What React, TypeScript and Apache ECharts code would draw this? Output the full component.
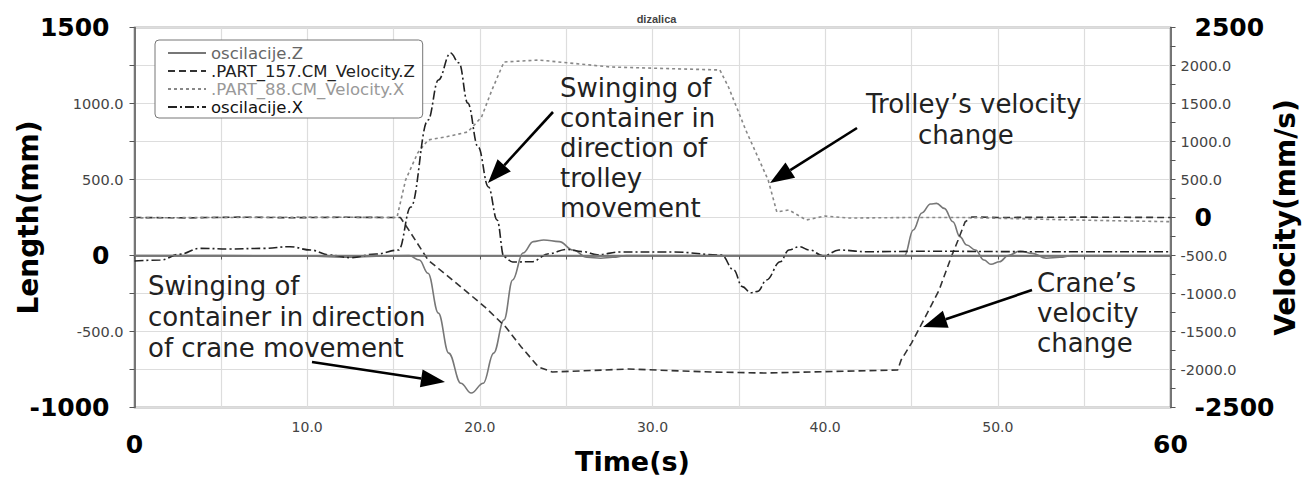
import React, { useEffect, useRef } from "react";
import * as echarts from "echarts";

// ---- data (time in s) ----
const zTime = [0, 5, 10, 12.5, 14, 15.9, 16.5, 17.0, 17.6, 18.2, 18.9, 19.5, 20.2, 20.8, 21.4, 21.9, 22.5, 23.1, 23.7, 24.6, 25.4, 26.2, 27.0, 27.7, 28.5, 35, 44.6, 45.1, 45.6, 46.1, 46.45, 46.9, 47.4, 47.8, 48.2, 48.7, 49.2, 49.6, 50.1, 50.6, 51.3, 52.0, 52.8, 53.6, 54.3, 60];
const zLength = [0, 0, -3, -12, -5, 0, -30, -117, -379, -642, -840, -905, -840, -642, -424, -161, 16, 91, 102, 91, 36, -12, -18, -12, 0, 0, 0, 168, 280, 339, 343, 310, 222, 124, 69, 36, -30, -58, -41, 0, 30, 14, -18, -12, 0, 0];

const xTime = [0, 1.5, 2.6, 3.8, 5.5, 7.5, 9.0, 10.2, 11.3, 12.5, 14.0, 15.3, 16.0, 17.0, 17.6, 18.3, 18.8, 19.3, 19.9, 20.5, 21.0, 21.4, 21.9, 23.0, 24.0, 25.0, 26.0, 26.8, 28.1, 31.2, 34.0, 34.7, 35.2, 35.7, 36.1, 36.6, 37.4, 37.9, 38.5, 39.1, 39.9, 40.8, 42.4, 46.2, 52, 60];
const xLength = [-36, -30, 8, 47, 43, 47, 58, 36, 3, -14, 10, 36, 319, 891, 1155, 1332, 1266, 1003, 714, 451, 234, -10, -43, -41, 12, 40, 25, 5, 23, 23, 3, -95, -205, -245, -236, -161, -41, 36, 58, 36, -3, 36, 25, 28, 25, 25];

const vzTime = [0, 3, 6, 9, 12, 15.4, 16.0, 17.0, 18.9, 20.3, 21.5, 22.4, 23.4, 24.2, 28.6, 33.4, 36.5, 44.2, 44.4, 45.0, 45.8, 46.6, 47.3, 47.7, 48.1, 48.5, 50, 55, 60];
const vzVelocity = [0, -5, 5, -3, 3, 0, -204, -559, -914, -1178, -1441, -1704, -1967, -2033, -1994, -2033, -2046, -2007, -1875, -1652, -1309, -954, -520, -296, -59, 7, 0, 5, 0];

const vxTime = [0, 5, 10, 15.2, 15.7, 16.4, 17.0, 18.0, 19.3, 20.1, 20.7, 21.4, 23.4, 27.6, 33.9, 34.4, 35.4, 36.7, 37.2, 37.9, 38.9, 40.0, 41.3, 45, 48, 52, 56, 60];
const vxVelocity = [-5, 0, 5, 0, 493, 849, 1020, 1059, 1125, 1322, 1678, 2046, 2072, 1980, 1941, 1717, 1151, 493, 72, 99, -33, 20, -7, 0, 0, -20, -40, -55];

const seriesNames = ["oscilacije.Z", ".PART_157.CM_Velocity.Z", ".PART_88.CM_Velocity.X", "oscilacije.X"];
const legendTextColors = ["#666", "#222", "#999", "#111"];

const pairs = (t: number[], v: number[]) => t.map((x, i) => [x, v[i]]);

const FONT = "DejaVu Sans";

function arrow(x1: number, y1: number, x2: number, y2: number) {
  const dx = x2 - x1, dy = y2 - y1;
  const len = Math.sqrt(dx * dx + dy * dy);
  const ux = dx / len, uy = dy / len;
  const hl = 24, hw = 9;
  const bx = x2 - ux * hl, by = y2 - uy * hl;
  return [
    { type: "line", shape: { x1, y1, x2: bx, y2: by }, style: { stroke: "#000", lineWidth: 2.6 }, z: 100 },
    {
      type: "polygon",
      shape: { points: [[x2, y2], [bx - uy * hw, by + ux * hw], [bx + uy * hw, by - ux * hw]] },
      style: { fill: "#000" },
      z: 100,
    },
  ];
}

function textBlock(lines: string[], x: number, y: number, lh: number) {
  return lines.map((s, i) => ({
    type: "text",
    x,
    y: y + i * lh,
    z: 100,
    style: { text: s, fontSize: 26, fontFamily: FONT, fill: "#222", verticalAlign: "middle" },
  }));
}

export default function App() {
  const ref = useRef<HTMLDivElement>(null);
  useEffect(() => {
    document.body.style.margin = "0";
    const chart = echarts.init(ref.current!, null, { renderer: "svg" });
    const bigL = (v: number) => v === 1500 || v === -1000 || v === 0;
    const bigR = (v: number) => v === 2500 || v === -2500 || v === 0;
    const option: any = {
      animation: false,
      backgroundColor: "#fff",
      title: {
        text: "dizalica",
        left: "center",
        top: 8,
        textStyle: { fontSize: 11, fontWeight: "bold", color: "#444", fontFamily: "Liberation Sans" },
      },
      grid: {
        left: 134.5,
        right: 142.5,
        top: 27.5,
        bottom: 71.5,
        show: true,
        borderColor: "#666",
        borderWidth: 1.5,
        containLabel: false,
        outerBoundsMode: "none",
      },
      legend: {
        orient: "vertical",
        left: 155,
        top: 40,
        itemWidth: 38,
        itemHeight: 10,
        itemGap: 0,
        padding: [4, 8, 2, 12],
        backgroundColor: "#fff",
        borderColor: "#777",
        borderWidth: 1,
        borderRadius: 4,
        itemStyle: { opacity: 0 },
        textStyle: { fontFamily: FONT, fontSize: 16.5, lineHeight: 18 },
        data: seriesNames.map((n, i) => ({ name: n, textStyle: { color: legendTextColors[i] } })),
      },
      xAxis: {
        type: "value",
        min: 0,
        max: 60,
        interval: 10,
        name: "Time(s)",
        nameLocation: "middle",
        nameGap: 40,
        nameMoveOverlap: false,
        nameTextStyle: { fontFamily: FONT, fontWeight: "bold", fontSize: 27, color: "#000", padding: [0, 40, 0, 0] },
        axisLine: { lineStyle: { color: "#555", width: 1.5 } },
        axisTick: { show: true, length: 4, lineStyle: { color: "#555" } },
        minorTick: { show: true, splitNumber: 2, length: 4, lineStyle: { color: "#555" } },
        splitLine: { show: true, lineStyle: { color: "#ddd", width: 1.2 } },
        minorSplitLine: { show: true, lineStyle: { color: "#ddd", width: 1.2 } },
        axisLabel: {
          margin: 12,
          showMinLabel: true,
          showMaxLabel: true,
          formatter: (v: number) => (v === 0 || v === 60 ? `{b|${v}}` : `{s|${v.toFixed(1)}}`),
          rich: {
            b: { fontFamily: FONT, fontWeight: "bold", fontSize: 25, color: "#000", padding: [12, 0, 0, 0] },
            s: { fontFamily: FONT, fontSize: 14, color: "#444" },
          },
        },
      },
      yAxis: [
        {
          type: "value",
          min: -1000,
          max: 1500,
          interval: 500,
          name: "Length(mm)",
          nameLocation: "middle",
          nameRotate: 90,
          nameGap: 92,
          nameMoveOverlap: false,
          nameTextStyle: { fontFamily: FONT, fontWeight: "bold", fontSize: 28, color: "#000" },
          axisLine: { show: true, lineStyle: { color: "#555", width: 1.5 } },
          axisTick: { show: true, length: 5, lineStyle: { color: "#555" } },
          minorTick: { show: true, splitNumber: 2, length: 5, lineStyle: { color: "#555" } },
          splitLine: { show: true, lineStyle: { color: "#ddd", width: 1.2 } },
          minorSplitLine: { show: true, lineStyle: { color: "#ddd", width: 1.2 } },
          axisLabel: {
            margin: 11,
            formatter: (v: number) => (bigL(v) ? `{b|${v}}` : `{s|${v.toFixed(1)}}`),
            rich: {
              b: { fontFamily: FONT, fontWeight: "bold", fontSize: 25, color: "#000", padding: [0, 14, 0, 0] },
              s: { fontFamily: FONT, fontSize: 14.5, color: "#444" },
            },
          },
        },
        {
          type: "value",
          min: -2500,
          max: 2500,
          interval: 500,
          position: "right",
          name: "Velocity(mm/s)",
          nameLocation: "middle",
          nameRotate: 90,
          nameGap: 101,
          nameMoveOverlap: false,
          nameTextStyle: { fontFamily: FONT, fontWeight: "bold", fontSize: 28, color: "#000" },
          axisLine: { show: true, lineStyle: { color: "#555", width: 1.5 } },
          axisTick: { show: true, length: 5, lineStyle: { color: "#555" } },
          minorTick: { show: true, splitNumber: 2, length: 5, lineStyle: { color: "#555" } },
          splitLine: { show: false },
          axisLabel: {
            margin: 10,
            formatter: (v: number) => (bigR(v) ? `{b|${v}}` : `{s|${v.toFixed(1)}}`),
            rich: {
              b: { fontFamily: FONT, fontWeight: "bold", fontSize: 25, color: "#000", padding: [0, 0, 0, 14] },
              s: { fontFamily: FONT, fontSize: 14.5, color: "#444" },
            },
          },
        },
      ],
      series: [
        {
          name: seriesNames[0],
          type: "line",
          yAxisIndex: 0,
          symbol: "none",
          smooth: 0.4,
          smoothMonotone: "x",
          data: pairs(zTime, zLength),
          lineStyle: { color: "#777", width: 1.6, type: "solid" },
          itemStyle: { color: "#777" },
          markLine: {
            silent: true,
            symbol: ["none", "none"],
            label: { show: false },
            lineStyle: { color: "#777", type: "solid", width: 1.3 },
            data: [{ yAxis: 0 }],
          },
        },
        {
          name: seriesNames[1],
          type: "line",
          yAxisIndex: 1,
          symbol: "none",
          data: pairs(vzTime, vzVelocity),
          lineStyle: { color: "#333", width: 1.6, type: [7, 4] },
          itemStyle: { color: "#333" },
        },
        {
          name: seriesNames[2],
          type: "line",
          yAxisIndex: 1,
          symbol: "none",
          data: pairs(vxTime, vxVelocity),
          lineStyle: { color: "#888", width: 1.6, type: [3, 3] },
          itemStyle: { color: "#888" },
        },
        {
          name: seriesNames[3],
          type: "line",
          yAxisIndex: 0,
          symbol: "none",
          smooth: 0.4,
          smoothMonotone: "x",
          data: pairs(xTime, xLength),
          lineStyle: { color: "#222", width: 1.6, type: [9, 3, 2, 3] },
          itemStyle: { color: "#222" },
        },
      ],
      graphic: [
        ...textBlock(["Swinging of", "container in", "direction of", "trolley", "movement"], 560, 88, 30),
        ...textBlock(["Trolley\u2019s velocity"], 866, 104, 30),
        ...textBlock(["change"], 918, 135, 30),
        ...textBlock(["Swinging of", "container in direction", "of crane movement"], 148, 286, 31),
        ...textBlock(["Crane\u2019s", "velocity", "change"], 1037, 283, 30),
        ...arrow(553, 112, 488, 183),
        ...arrow(857, 128, 770, 183),
        ...arrow(312, 362, 445, 382),
        ...arrow(1032, 290, 923, 327),
      ],
    };
    chart.setOption(option);
    return () => chart.dispose();
  }, []);
  return <div ref={ref} style={{ width: 1313, height: 479 }} />;
}
